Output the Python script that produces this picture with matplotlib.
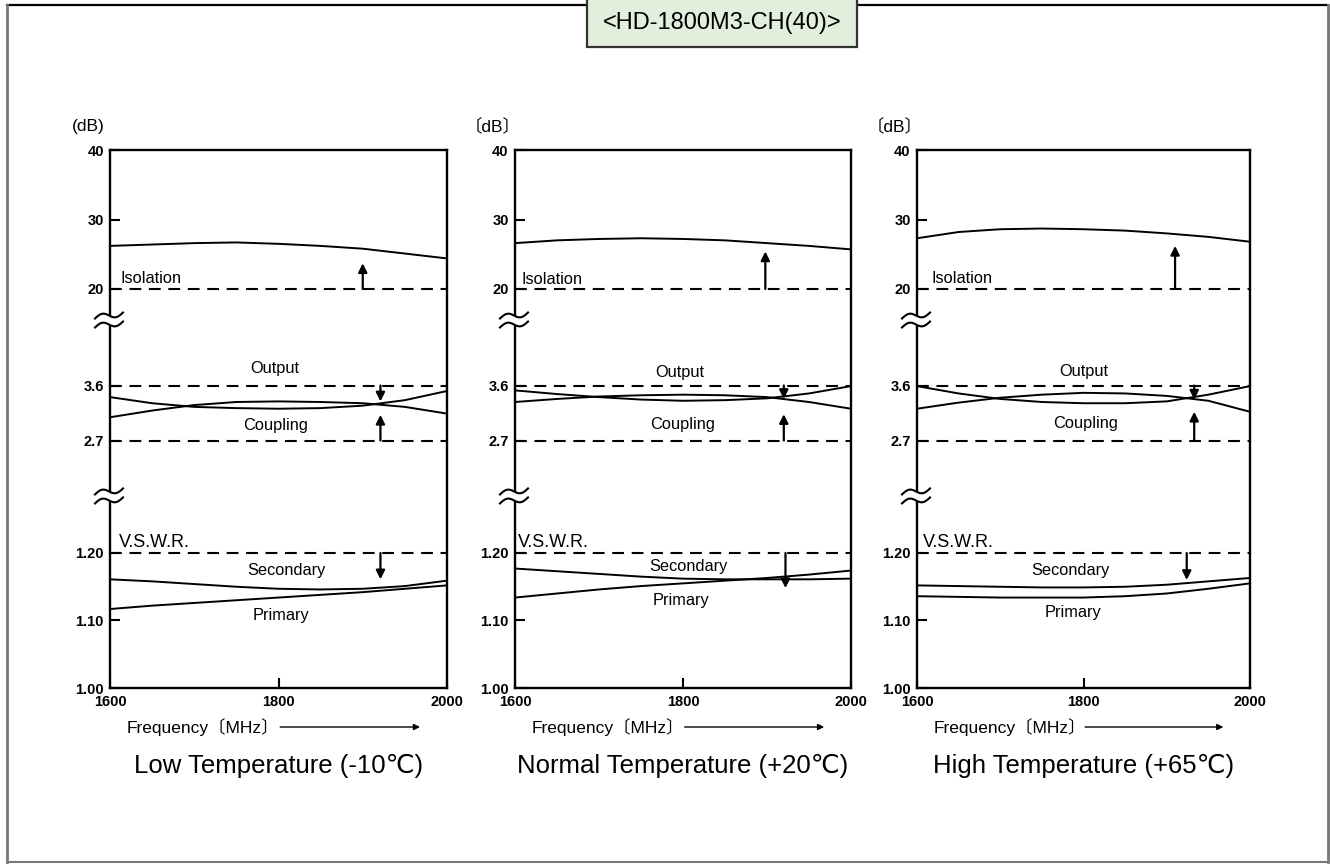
import numpy as np
import matplotlib
matplotlib.use("Agg")
import matplotlib.pyplot as plt
from matplotlib.patches import Rectangle, Polygon
from matplotlib.lines import Line2D
from matplotlib.transforms import blended_transform_factory

plt.rcParams['font.family'] = ['Liberation Sans', 'DejaVu Sans', 'Noto Sans CJK JP']
plt.rcParams['lines.scale_dashes'] = False

# ---------------- data ----------------
freq = [1600, 1650, 1700, 1750, 1800, 1850, 1900, 1950, 2000]

low_isolation = [26.2, 26.4, 26.6, 26.7, 26.5, 26.2, 25.8, 25.1, 24.4]
low_output = [3.41, 3.31, 3.25, 3.23, 3.22, 3.23, 3.27, 3.36, 3.51]
low_coupling = [3.08, 3.19, 3.28, 3.33, 3.34, 3.33, 3.31, 3.25, 3.14]
low_vswr_secondary = [1.161, 1.158, 1.154, 1.150, 1.147, 1.146, 1.147, 1.151, 1.159]
low_vswr_primary = [1.117, 1.122, 1.126, 1.130, 1.134, 1.138, 1.142, 1.147, 1.152]

normal_isolation = [26.6, 27.0, 27.2, 27.3, 27.2, 27.0, 26.6, 26.2, 25.7]
normal_output = [3.52, 3.46, 3.41, 3.37, 3.35, 3.36, 3.39, 3.47, 3.59]
normal_coupling = [3.33, 3.38, 3.42, 3.44, 3.45, 3.44, 3.41, 3.33, 3.22]
normal_vswr_secondary = [1.177, 1.173, 1.169, 1.165, 1.162, 1.161, 1.161, 1.161, 1.162]
normal_vswr_primary = [1.134, 1.140, 1.146, 1.151, 1.155, 1.159, 1.163, 1.168, 1.174]

high_isolation = [27.3, 28.2, 28.6, 28.7, 28.6, 28.4, 28.0, 27.5, 26.8]
high_output = [3.59, 3.47, 3.38, 3.33, 3.31, 3.31, 3.34, 3.45, 3.59]
high_coupling = [3.22, 3.32, 3.40, 3.45, 3.48, 3.47, 3.43, 3.35, 3.17]
high_vswr_secondary = [1.152, 1.151, 1.150, 1.149, 1.149, 1.150, 1.153, 1.158, 1.163]
high_vswr_primary = [1.136, 1.135, 1.134, 1.134, 1.134, 1.136, 1.140, 1.147, 1.155]

# specification limits (dashed lines) and spec arrows
spec_levels = [20, 3.6, 2.7, 1.20]
arrow_base = [20, 3.6, 2.7, 1.20]
low_arrow_freq = [1900, 1921, 1921, 1921]
low_arrow_tip = [23.7, 3.34, 3.12, 1.161]
normal_arrow_freq = [1898, 1920, 1920, 1922]
normal_arrow_tip = [25.4, 3.38, 3.13, 1.148]
high_arrow_freq = [1910, 1933, 1933, 1924]
high_arrow_tip = [26.2, 3.37, 3.17, 1.160]

ytick_vals = [1.00, 1.10, 1.20, 2.7, 3.6, 20, 30, 40]
ytick_labels = ['1.00', '1.10', '1.20', '2.7', '3.6', '20', '30', '40']
xtick_vals = [1600, 1800, 2000]
xtick_labels = ['1600', '1800', '2000']

captions = ['Low Temperature (-10℃)', 'Normal Temperature (+20℃)', 'High Temperature (+65℃)']
unit_labels = ['(dB)', '〔dB〕', '〔dB〕']
curve_names = ['Isolation', 'Output', 'Coupling', 'V.S.W.R.', 'Secondary', 'Primary']

# broken-axis scale: value -> drawing position
scale_vals = [1.00, 1.20, 2.7, 3.6, 20, 40]
scale_pos = [0.0, 135.0, 247.5, 302.5, 399.0, 538.0]


def _pw(v, xs, ys):
    v = np.asarray(v, dtype=float)
    out = np.interp(v, xs, ys)
    s0 = (ys[1] - ys[0]) / (xs[1] - xs[0])
    s1 = (ys[-1] - ys[-2]) / (xs[-1] - xs[-2])
    out = np.where(v < xs[0], ys[0] + (v - xs[0]) * s0, out)
    out = np.where(v > xs[-1], ys[-1] + (v - xs[-1]) * s1, out)
    return out


def fwd(v):
    return _pw(v, scale_vals, scale_pos)


def inv(p):
    return _pw(p, scale_pos, scale_vals)


panels = [
    dict(iso=low_isolation, out=low_output, cpl=low_coupling,
         sec=low_vswr_secondary, pri=low_vswr_primary,
         af=low_arrow_freq, at=low_arrow_tip,
         lab_f=[1612, 1796, 1796, 1610, 1809, 1803],
         lab_y=[0.762, 0.593, 0.487, 0.271, 0.219, 0.134]),
    dict(iso=normal_isolation, out=normal_output, cpl=normal_coupling,
         sec=normal_vswr_secondary, pri=normal_vswr_primary,
         af=normal_arrow_freq, at=normal_arrow_tip,
         lab_f=[1608, 1796, 1800, 1604, 1806, 1798],
         lab_y=[0.760, 0.587, 0.489, 0.271, 0.225, 0.162]),
    dict(iso=high_isolation, out=high_output, cpl=high_coupling,
         sec=high_vswr_secondary, pri=high_vswr_primary,
         af=high_arrow_freq, at=high_arrow_tip,
         lab_f=[1618, 1800, 1803, 1607, 1784, 1787],
         lab_y=[0.762, 0.589, 0.491, 0.270, 0.219, 0.141]),
]

W, H = 1330, 867
fig = plt.figure(figsize=(W / 100, H / 100), dpi=100)
fig.patch.set_facecolor('white')

# frame of the page
fig.add_artist(Line2D([7 / W, 1328 / W], [1 - 4.5 / H, 1 - 4.5 / H], color='black', lw=1.6,
                      transform=fig.transFigure))
fig.add_artist(Line2D([7 / W, 7 / W], [1 - 862 / H, 1 - 4.5 / H], color='#777777', lw=2,
                      transform=fig.transFigure))
fig.add_artist(Line2D([1328 / W, 1328 / W], [1 - 862 / H, 1 - 4.5 / H], color='#777777', lw=2,
                      transform=fig.transFigure))
fig.add_artist(Line2D([7 / W, 1328 / W], [1 - 862 / H, 1 - 862 / H], color='#777777', lw=1.5,
                      transform=fig.transFigure))

# title box
fig.add_artist(Rectangle((587 / W, 1 - 47 / H), 270 / W, 60 / H, transform=fig.transFigure,
                         facecolor='#e2efdd', edgecolor='#333333', lw=1.6, zorder=5))
fig.text(722 / W, 1 - 23 / H, '<HD-1800M3-CH(40)>', ha='center', va='center',
         fontsize=17, zorder=6)

axes_px = [(110, 337), (515, 336), (917, 333)]
top_px, bot_px = 150, 688


def draw_break(ax, yfrac, wpx, hpx):
    t = np.linspace(0, 1, 40)
    px = -15 + 28 * t
    base = 6 * (t - 0.5) + 3.2 * np.sin(2 * np.pi * t)
    up = base + 4.5
    dn = base - 4.5
    xs = px / wpx
    yu = yfrac + up / hpx
    yd = yfrac + dn / hpx
    poly = Polygon(np.column_stack([np.r_[xs, xs[::-1]], np.r_[yu, yd[::-1]]]),
                   closed=True, facecolor='white', edgecolor='none',
                   transform=ax.transAxes, clip_on=False, zorder=3)
    ax.add_patch(poly)
    ax.plot(xs, yu, color='black', lw=1.5, transform=ax.transAxes, clip_on=False, zorder=4)
    ax.plot(xs, yd, color='black', lw=1.5, transform=ax.transAxes, clip_on=False, zorder=4)


for i, p in enumerate(panels):
    left, width = axes_px[i]
    rect = [left / W, 1 - bot_px / H, width / W, (bot_px - top_px) / H]
    ax = fig.add_axes(rect)
    ax.set_yscale('function', functions=(fwd, inv))

    for series in (p['iso'], p['out'], p['cpl'], p['sec'], p['pri']):
        ax.plot(freq, series, color='black', lw=1.4, solid_capstyle='round', zorder=2)

    for lvl in spec_levels:
        ax.plot([xtick_vals[0], xtick_vals[-1]], [lvl, lvl], color='black', lw=1.5,
                linestyle=(0, (8.5, 5.5)), zorder=2)

    for f, b, tip in zip(p['af'], arrow_base, p['at']):
        ax.annotate('', xy=(f, tip), xytext=(f, b), xycoords='data',
                    arrowprops=dict(arrowstyle='-|>', color='black', lw=1.6,
                                    mutation_scale=13, shrinkA=0, shrinkB=0), zorder=3)

    ax.set_xlim(1600, 2000)
    ax.set_ylim(1.00, 40)
    ax.set_xticks(xtick_vals)
    ax.set_xticklabels(xtick_labels, fontweight='bold')
    ax.set_yticks(ytick_vals)
    ax.set_yticklabels(ytick_labels, fontweight='bold')
    ax.minorticks_off()
    ax.tick_params(axis='both', direction='in', length=7, width=1.5, labelsize=10.5)
    ax.tick_params(axis='y', pad=4.5)
    ax.tick_params(axis='x', pad=5)
    for s in ax.spines.values():
        s.set_linewidth(1.7)

    tr = blended_transform_factory(ax.transData, ax.transAxes)
    for k, name in enumerate(curve_names):
        ha = 'left' if name in ('Isolation', 'V.S.W.R.') else 'center'
        fs = 13 if name == 'V.S.W.R.' else 11.8
        ax.text(p['lab_f'][k], p['lab_y'][k], name, transform=tr, ha=ha, va='center',
                fontsize=fs)

    ax.text(-0.066, 1.043, unit_labels[i], transform=ax.transAxes, ha='center',
            va='center', fontsize=12.5)

    ax.text(0.05, -0.0725, 'Frequency〔MHz〕', transform=ax.transAxes, ha='left',
            va='center', fontsize=12.5)
    ax.annotate('', xy=(0.92, -0.0725), xytext=(0.505, -0.0725), xycoords='axes fraction',
                arrowprops=dict(arrowstyle='-|>', color='black', lw=1.0,
                                mutation_scale=9, shrinkA=0, shrinkB=0))

    ax.text(0.5, -0.145, captions[i], transform=ax.transAxes, ha='center', va='center',
            fontsize=18.5)

    wpx, hpx = width, bot_px - top_px
    draw_break(ax, 0.684, wpx, hpx)
    draw_break(ax, 0.357, wpx, hpx)

fig.savefig('out.png', dpi=100, facecolor='white')
